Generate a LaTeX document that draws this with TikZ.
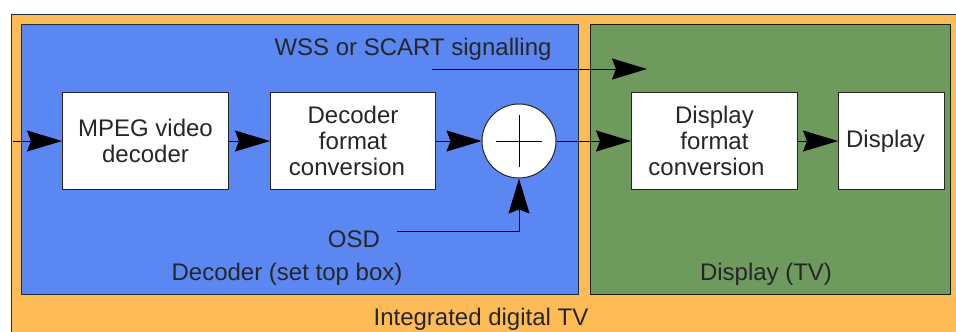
\documentclass[tikz,border=0pt]{standalone}
\usepackage{fontspec}
\setmainfont{Liberation Sans}
\usetikzlibrary{arrows.meta,calc}
\definecolor{orangebg}{HTML}{FFBB55}
\definecolor{bluebg}{HTML}{5A87F2}
\definecolor{greenbg}{HTML}{6E9A5E}
\definecolor{txt}{HTML}{262626}
\definecolor{edge}{HTML}{1E2A40}
\tikzset{
  every node/.style={font=\fontsize{24}{26}\selectfont, text=txt},
  container/.style={draw=edge, line width=1.2pt, anchor=north west, inner sep=0pt},
  block/.style={draw=txt, fill=white, line width=1pt, anchor=north west, inner sep=0pt, align=center},
  arr/.style={line width=1pt, -{Stealth[length=35pt,width=21pt,inset=4pt]}},
  plain/.style={line width=1pt},
  lbl/.style={inner sep=0pt, anchor=center}
}
\begin{document}
\begin{tikzpicture}[x=1pt,y=-1pt]
\useasboundingbox (0,0) rectangle (956,332);
\fill[white] (0,0) rectangle (956,332);
% outer integrated TV
\node[container, fill=orangebg, minimum width=960, minimum height=330] (itv) at (11,14) {};
% decoder area
\node[container, fill=bluebg, minimum width=557, minimum height=270] (dec) at (21,24) {};
% display area
\node[container, draw=black!80!greenbg, fill=greenbg, minimum width=360, minimum height=270] (disp) at (590,24) {};
% blocks
\node[block, minimum width=166, minimum height=97] (mpeg) at (62,92) {MPEG video\\decoder};
\node[block, minimum width=165, minimum height=97] (dfc) at (270,92) {Decoder\\format\\conversion\hspace*{12pt}};
\node[draw=txt, fill=white, line width=1pt, circle, minimum size=74pt, inner sep=0pt] (sum) at (519,141) {};
\draw[plain] ($(sum.center)+(-23,0)$) -- ($(sum.center)+(23,0)$);
\draw[plain] ($(sum.center)+(0,-26)$) -- ($(sum.center)+(0,26)$);
\node[block, minimum width=166, minimum height=97] (pfc) at (631,92) {Display\\format\\conversion\hspace*{16pt}};
\node[block, minimum width=106, minimum height=97] (dsp) at (838,92) {\raisebox{-3pt}{Display}\hspace*{12pt}};
% labels
\node[lbl] (wss) at (413,49) {WSS or SCART signalling};
\node[lbl] (osd) at (354,239) {OSD};
\node[lbl] (declbl) at (287,274) {Decoder (set top box)};
\node[lbl] (displbl) at (766,274) {Display (TV)};
\node[lbl] (itvlbl) at (481,319) {Integrated digital TV};
% connectors
\coordinate (inp) at (13,141);
\coordinate (wssa) at (432,69);
\coordinate (wssb) at (647,69);
\coordinate (osda) at (397,231);
\draw[arr] (inp) -- (mpeg.west);
\draw[arr] (mpeg.east) -- (dfc.west);
\draw[arr] (dfc.east) -- (sum.west);
\draw[arr] (sum.east) -- (pfc.west);
\draw[arr] (pfc.east) -- (dsp.west);
\draw[arr] (wssa) -- (wssb);
\draw[arr] (osda) -| (sum.south);
\end{tikzpicture}
\end{document}
